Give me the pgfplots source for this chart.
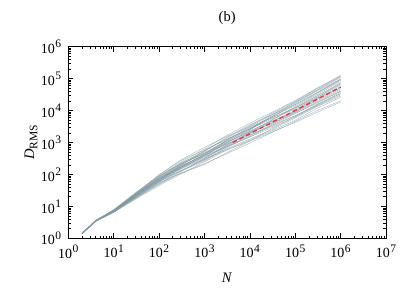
\documentclass[12pt,border=0pt]{standalone}
\usepackage{pgfplots}
\pgfplotsset{compat=1.18}
\usepackage{fontspec}
\setmainfont{Liberation Serif}
\definecolor{rwc}{RGB}{128,152,160}
\definecolor{fitc}{RGB}{240,48,60}
\newcommand\tickfont{\fontsize{14}{16}\selectfont}
\newcommand\supfont{\fontsize{11.5}{13}\selectfont}
\newcommand\labfont{\fontsize{14.5}{16}\selectfont}
\newcommand\subfont{\fontsize{11.5}{13}\selectfont}
\begin{document}
\begin{tikzpicture}
\useasboundingbox (0,0) rectangle (415pt,290pt);
\begin{axis}[
  at={(68.3pt,51.7pt)}, anchor=south west,
  scale only axis, width=317.7pt, height=191.6pt,
  xmode=log, ymode=log,
  xmin=1, xmax=1e7, ymin=1, ymax=1e6,
  /pgf/number format/assume math mode=true,
  log number format basis/.code 2 args={#1\kern0.5pt\raisebox{0.42em}{\supfont\pgfmathprintnumber{#2}}},
  tick align=inside,
  major tick length=5pt, minor tick length=2.8pt,
  every tick/.style={black, line width=0.6pt},
  axis line style={line width=1pt},
  tick label style={font=\tickfont},
  every x tick label/.append style={yshift=-2pt},
  every y tick label/.append style={xshift=-3pt},
  xlabel={\textit{N}}, ylabel={\textit{D}\raisebox{-0.22em}{\subfont RMS}},
  xlabel style={at={(axis description cs:0.5,-0.207)}, anchor=center, font=\labfont},
  ylabel style={at={(axis description cs:-0.117,0.5)}, anchor=center, font=\labfont},
  title={(b)},
  title style={at={(axis description cs:0.5,1.118)}, anchor=center, font=\labfont},
  rw/.style={rwc, line width=0.5pt, opacity=0.6},
]
\addplot[rw] coordinates {(2,1.4) (4,3.6) (10,7.57) (30,24.5) (100,86.6) (300,240) (1000,624) (3000,1625) (10000,4030) (30000,8618) (100000,2.056e4) (300000,5.01e4) (1000000,1.26e5)};
\addplot[rw] coordinates {(2,1.4) (4,3.4) (10,6.65) (30,18.1) (100,50.5) (300,109) (1000,217) (3000,437) (10000,958) (30000,2024) (100000,4624) (300000,9954) (1000000,2.0e4)};
\addplot[rw] coordinates {(2,1.4) (4,3.5) (10,7.1) (30,22.6) (100,76.4) (300,185) (1000,404) (3000,873) (10000,1859) (30000,4260) (100000,1.035e4) (300000,2.58e4) (1000000,6.25e4)};
\addplot[rw] coordinates {(2,1.4) (4,3.5) (10,7.33) (30,23.9) (100,76.4) (300,175) (1000,356) (3000,710) (10000,1491) (30000,2880) (100000,6383) (300000,1.57e4) (1000000,3.39e4)};
\addplot[rw] coordinates {(2,1.4) (4,3.6) (10,7.69) (30,25.9) (100,94.0) (300,268) (1000,587) (3000,1233) (10000,2687) (30000,6300) (100000,1.549e4) (300000,3.6e4) (1000000,9.68e4)};
\addplot[rw] coordinates {(2,1.4) (4,3.4) (10,6.55) (30,19.2) (100,62.2) (300,167) (1000,430) (3000,1150) (10000,2893) (30000,5826) (100000,1.216e4) (300000,2.805e4) (1000000,7.45e4)};
\addplot[rw] coordinates {(2,1.4) (4,3.5) (10,6.87) (30,18.6) (100,52.6) (300,128) (1000,296) (3000,618) (10000,1287) (30000,2462) (100000,5888) (300000,1.33e4) (1000000,2.84e4)};
\addplot[rw] coordinates {(2,1.4) (4,3.6) (10,7.21) (30,20.8) (100,67.5) (300,194) (1000,518) (3000,1415) (10000,3609) (30000,7369) (100000,1.82e4) (300000,4.43e4) (1000000,1.153e5)};
\addplot[rw] coordinates {(2,1.4) (4,3.5) (10,6.76) (30,20.2) (100,70.3) (300,158) (1000,314) (3000,760) (10000,2002) (30000,4606) (100000,9550) (300000,2.014e4) (1000000,4.81e4)};
\addplot[rw] coordinates {(2,1.4) (4,3.5) (10,7.45) (30,25.3) (100,98.0) (300,282) (1000,707) (3000,1516) (10000,3114) (30000,5826) (100000,1.216e4) (300000,2.58e4) (1000000,6.82e4)};
\addplot[rw] coordinates {(2,1.4) (4,3.4) (10,6.44) (30,16.7) (100,44.6) (300,103) (1000,246) (3000,576) (10000,1195) (30000,2277) (100000,5012) (300000,1.175e4) (1000000,2.61e4)};
\addplot[rw] coordinates {(2,1.4) (4,3.6) (10,7.45) (30,21.9) (100,62.2) (300,135) (1000,278) (3000,710) (10000,1727) (30000,3368) (100000,8128) (300000,1.778e4) (1000000,4.04e4)};
\addplot[rw] coordinates {(2,1.4) (4,3.5) (10,7.21) (30,23.2) (100,83.0) (300,229) (1000,487) (3000,1073) (10000,2497) (30000,6300) (100000,1.679e4) (300000,4.07e4) (1000000,9.68e4)};
\addplot[rw] coordinates {(2,1.4) (4,3.5) (10,7.1) (30,19.7) (100,57.2) (300,150) (1000,379) (3000,935) (10000,2320) (30000,4606) (100000,8810) (300000,1.854e4) (1000000,4.41e4)};
\addplot[rw] coordinates {(2,1.4) (4,3.5) (10,6.65) (30,17.5) (100,48.5) (300,121) (1000,314) (3000,814) (10000,2002) (30000,3939) (100000,8128) (300000,1.706e4) (1000000,4.04e4)};
\addplot[rw] coordinates {(2,1.4) (4,3.6) (10,7.82) (30,26.6) (100,86.6) (300,206) (1000,457) (3000,1002) (10000,2155) (30000,4982) (100000,1.318e4) (300000,3.177e4) (1000000,8.13e4)};
\addplot[rw] coordinates {(2,1.4) (4,3.4) (10,7.1) (30,21.9) (100,67.5) (300,150) (1000,296) (3000,576) (10000,1110) (30000,2106) (100000,4266) (300000,8790) (1000000,1.837e4)};
\addplot[rw] coordinates {(2,1.4) (4,3.5) (10,7.45) (30,22.6) (100,79.6) (300,216) (1000,551) (3000,1320) (10000,3353) (30000,7968) (100000,1.972e4) (300000,4.81e4) (1000000,1.205e5)};
\addplot[rw] coordinates {(2,1.4) (4,3.5) (10,6.87) (30,21.4) (100,73.4) (300,206) (1000,457) (3000,873) (10000,1727) (30000,3115) (100000,6918) (300000,1.445e4) (1000000,3.39e4)};
\addplot[rw] coordinates {(2,1.4) (4,3.6) (10,7.69) (30,23.2) (100,70.3) (300,167) (1000,404) (3000,1073) (10000,2687) (30000,5387) (100000,1.122e4) (300000,2.377e4) (1000000,5.73e4)};
\addplot[rw] coordinates {(2,1.4) (4,3.4) (10,6.76) (30,20.8) (100,59.6) (300,128) (1000,262) (3000,661) (10000,1605) (30000,3642) (100000,8810) (300000,2.188e4) (1000000,5.25e4)};
\addplot[rw] coordinates {(2,1.4) (4,3.5) (10,7.33) (30,21.4) (100,64.7) (300,175) (1000,430) (3000,935) (10000,2497) (30000,6300) (100000,1.429e4) (300000,3.45e4) (1000000,8.87e4)};
\addplot[rw] coordinates {(2,1.4) (4,3.5) (10,6.98) (30,19.7) (100,54.9) (300,109) (1000,204) (3000,468) (10000,1110) (30000,2663) (100000,6383) (300000,1.387e4) (1000000,3.1e4)};
\addplot[rw] coordinates {(2,1.4) (4,3.4) (10,7.21) (30,23.9) (100,90.2) (300,216) (1000,457) (3000,1150) (10000,3114) (30000,7369) (100000,1.549e4) (300000,3.6e4) (1000000,9.27e4)};
\addplot[rw] coordinates {(2,1.4) (4,3.6) (10,7.1) (30,22.6) (100,73.4) (300,167) (1000,335) (3000,814) (10000,2155) (30000,4982) (100000,1.216e4) (300000,2.924e4) (1000000,6.82e4)};
\addplot[rw] coordinates {(2,1.4) (4,3.5) (10,6.76) (30,18.6) (100,59.6) (300,158) (1000,379) (3000,760) (10000,1491) (30000,3368) (100000,6918) (300000,1.507e4) (1000000,3.7e4)};
\addplot[rw] coordinates {(2,1.4) (4,3.5) (10,7.57) (30,24.5) (100,76.4) (300,185) (1000,379) (3000,1002) (10000,2155) (30000,3939) (100000,9550) (300000,2.377e4) (1000000,5.25e4)};
\addplot[rw] coordinates {(2,1.4) (4,3.5) (10,6.98) (30,21.9) (100,64.7) (300,194) (1000,551) (3000,1233) (10000,2687) (30000,6814) (100000,1.82e4) (300000,4.25e4) (1000000,1.104e5)};
\addplot[fitc, line width=1.3pt, dash pattern=on 4.5pt off 3pt] coordinates {(4200,1000) (1000000,5.4e4)};
\end{axis}
\end{tikzpicture}
\end{document}
